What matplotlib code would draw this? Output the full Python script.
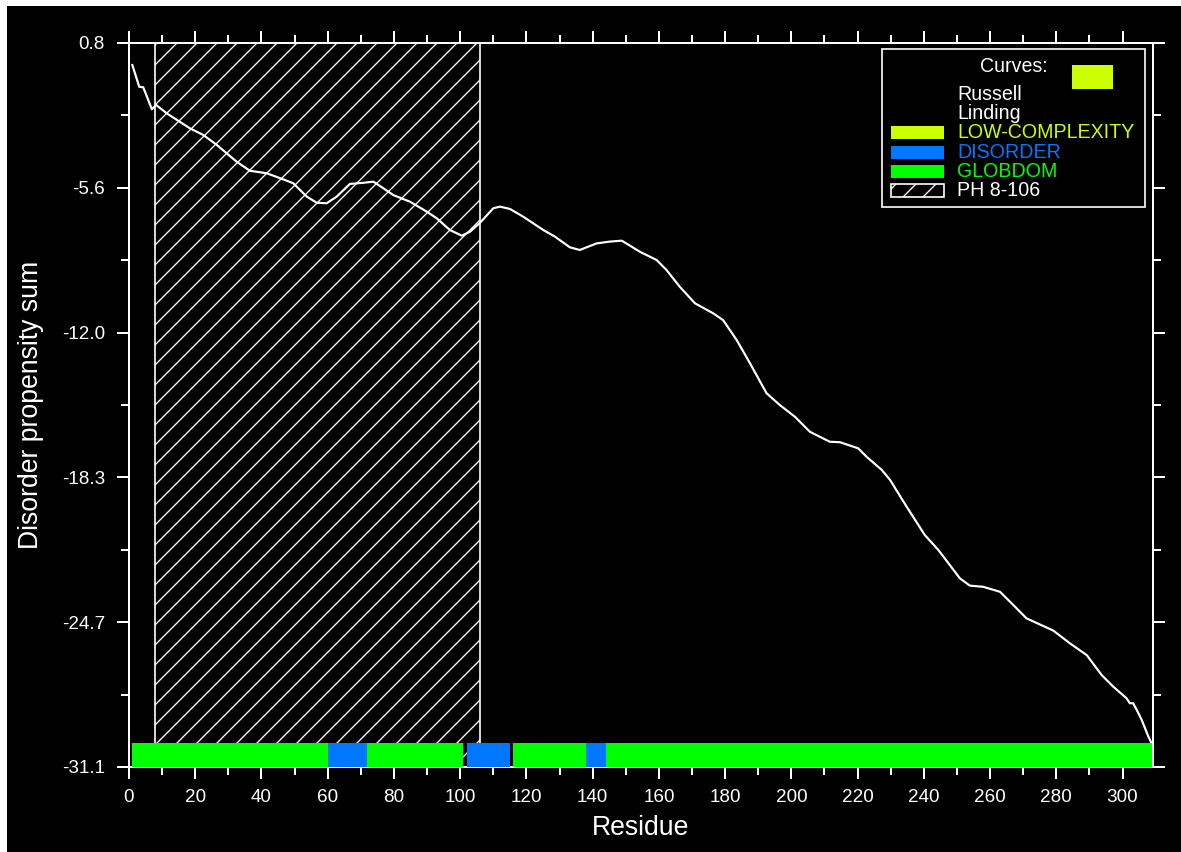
import numpy as np
import matplotlib
matplotlib.use("Agg")
import matplotlib.pyplot as plt
from matplotlib.patches import Rectangle

# -----------------------------
# DATA
# -----------------------------
residues = [1, 3.1, 4.3, 6.9, 8.2, 11.4, 18.4, 22.4, 26.5, 32.5, 36.5, 41.6, 46.6, 49.6,
            53.7, 56.7, 59.7, 62.7, 66.7, 70.7, 73.8, 76.8, 79.8, 84.8, 89.9, 92.9, 96.9,
            100.5, 103, 106, 110, 112, 115, 119, 125.1, 128.6, 133.1, 136.1, 141.2, 145.2,
            148.8, 154.3, 159.3, 162.3, 166.3, 170.9, 176.4, 179.4, 183.5, 187.5, 192.5,
            196.5, 201.1, 205.6, 208.6, 211.6, 214.7, 220.2, 222.7, 227.3, 229.8, 234.8,
            240.3, 244.4, 250.9, 253.9, 257.9, 263, 267, 271, 279.1, 284.1, 289.2, 293.7,
            297.2, 301.2, 302.2, 303.2, 304.3, 305.8, 307.8, 308.9, 309]
disorder_sum = [-0.17, -1.13, -1.15, -2.12, -1.93, -2.30, -2.96, -3.25, -3.69, -4.43, -4.83,
                -4.94, -5.21, -5.38, -5.97, -6.24, -6.26, -5.97, -5.41, -5.36, -5.31, -5.60,
                -5.90, -6.19, -6.63, -6.92, -7.44, -7.69, -7.51, -7.12, -6.48, -6.41, -6.51,
                -6.85, -7.44, -7.73, -8.20, -8.32, -8.03, -7.95, -7.91, -8.40, -8.76, -9.20,
                -9.94, -10.67, -11.11, -11.41, -12.29, -13.31, -14.63, -15.15, -15.67, -16.33,
                -16.55, -16.77, -16.79, -17.06, -17.43, -18.01, -18.45, -19.63, -20.88, -21.54,
                -22.79, -23.11, -23.16, -23.38, -23.96, -24.55, -25.09, -25.65, -26.17, -27.05,
                -27.56, -28.07, -28.29, -28.29, -28.59, -29.03, -29.76, -30.10, -31.10]

globdom = [(1, 101), (116, 309)]
disorder = [(60, 72), (102, 115), (138, 144)]
ph_domain = (8, 106)

y_min, y_max = -31.1, 0.8
seq_len = 309.2

LOWC_COL = "#ccff00"
DIS_COL = "#0077ff"
GLOB_COL = "#00ff00"

# -----------------------------
# FIGURE
# -----------------------------
W, H, DPI = 1181, 852, 120
plt.rcParams["font.family"] = ["Liberation Sans", "DejaVu Sans"]
plt.rcParams["hatch.color"] = "white"
plt.rcParams["hatch.linewidth"] = 0.8

fig = plt.figure(figsize=(W / DPI, H / DPI), dpi=DPI, facecolor="black")
# thin white strip on the left and top edges
fig.patches.append(Rectangle((-0.01, -0.01), 0.01 + 7 / W, 1.02, transform=fig.transFigure,
                             facecolor="white", edgecolor="none", zorder=-10))
fig.patches.append(Rectangle((-0.01, 1 - 6 / H), 1.02, 0.02, transform=fig.transFigure,
                             facecolor="white", edgecolor="none", zorder=-10))

ax = fig.add_axes([129 / W, 1 - 767 / H, 1024 / W, 724 / H])
ax.set_facecolor("black")

# PH domain hatch
ax.axvspan(ph_domain[0], ph_domain[1], facecolor="none", edgecolor="white",
           hatch="//", lw=1.0, zorder=1)

# curve
ax.plot(residues, disorder_sum, color="white", lw=1.3, zorder=2)

# domain bars
bar_h = 1.05
ax.broken_barh([(a, b - a) for a, b in globdom], (y_min, bar_h),
               facecolors=GLOB_COL, zorder=3)
ax.broken_barh([(a, b - a) for a, b in disorder], (y_min, bar_h),
               facecolors=DIS_COL, zorder=4)

ax.set_xlim(0, seq_len)
ax.set_ylim(y_min, y_max)

yt = np.linspace(y_max, y_min, 6)
ax.set_yticks(yt)
ax.set_yticklabels(["%.1f" % v for v in yt])
ax.set_yticks((yt[:-1] + yt[1:]) / 2, minor=True)
ax.set_xticks(np.arange(0, 301, 20))
ax.set_xticks(np.arange(10, 310, 20), minor=True)

for s in ax.spines.values():
    s.set_color("white")
    s.set_linewidth(1.2)
ax.tick_params(which="both", direction="out", color="white", labelcolor="white",
               width=1.2, top=True, right=True, labeltop=False, labelright=False)
ax.tick_params(which="major", length=7.4, labelsize=11.3)
ax.tick_params(axis="y", which="major", pad=7)
ax.tick_params(axis="x", which="major", pad=6)
ax.tick_params(which="minor", length=4.6)

ax.set_xlabel("Residue", color="white", fontsize=16)
ax.xaxis.set_label_coords(0.5, -0.066)
ax.set_ylabel("Disorder propensity sum", color="white", fontsize=16)
ax.yaxis.set_label_coords(-0.083, 0.5)

# -----------------------------
# LEGEND (drawn by hand)
# -----------------------------
def fx(px):
    return px / W

def fy(py):
    return 1 - py / H

fig.patches.append(Rectangle((fx(882), fy(207)), fx(1145) - fx(882), (207 - 49) / H,
                             transform=fig.transFigure, facecolor="black",
                             edgecolor="white", lw=1.0, zorder=5))
fig.text(fx(980), fy(66), "Curves:", color="white", fontsize=11.8, va="center", zorder=6)
fig.patches.append(Rectangle((fx(1072), fy(89)), 41 / W, 24 / H, transform=fig.transFigure,
                             facecolor=LOWC_COL, edgecolor="none", zorder=6))

rows = [("Russell", "white", None),
        ("Linding", "white", None),
        ("LOW-COMPLEXITY", LOWC_COL, LOWC_COL),
        ("DISORDER", DIS_COL, DIS_COL),
        ("GLOBDOM", GLOB_COL, GLOB_COL),
        ("PH 8-106", "white", "hatch")]
row_y = 94.3
for label, tcol, patch in rows:
    fig.text(fx(957), fy(row_y), label, color=tcol, fontsize=11.8, va="center", zorder=6)
    if patch == "hatch":
        fig.patches.append(Rectangle((fx(891), fy(row_y + 6.5)), 53 / W, 13 / H,
                                     transform=fig.transFigure, facecolor="none",
                                     edgecolor="white", hatch="//", lw=1.0, zorder=6))
    elif patch is not None:
        fig.patches.append(Rectangle((fx(891), fy(row_y + 6.5)), 53 / W, 13 / H,
                                     transform=fig.transFigure, facecolor=patch,
                                     edgecolor="none", zorder=6))
    row_y += 19.3

fig.savefig("out.png", dpi=DPI, facecolor="black")
